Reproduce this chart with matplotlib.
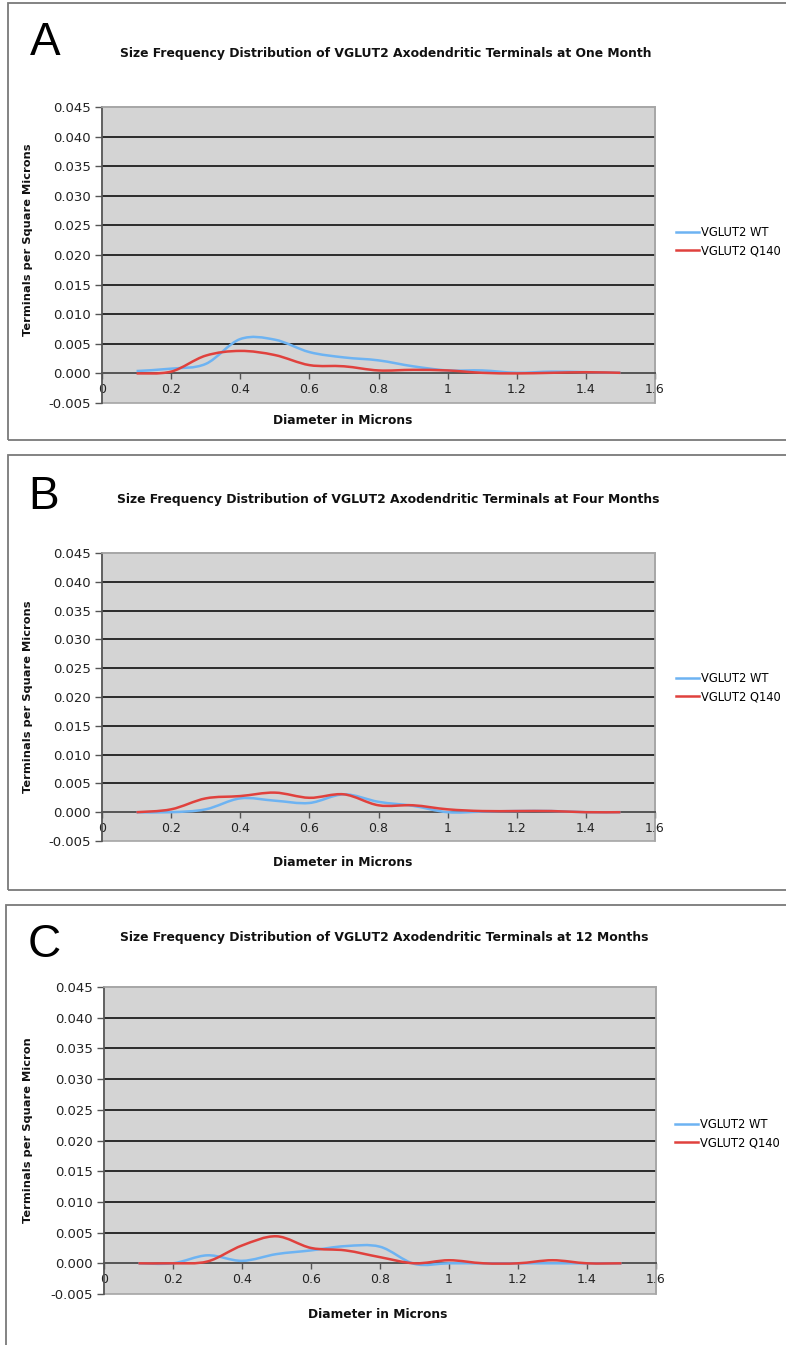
import numpy as np
import matplotlib
matplotlib.use("Agg")
from matplotlib import pyplot as plt
from matplotlib.path import Path
from matplotlib.patches import PathPatch, Rectangle
from matplotlib.lines import Line2D

# diameters (microns) and terminals per square micron
diameter = [0.1, 0.2, 0.3, 0.4, 0.5, 0.6, 0.7, 0.8, 0.9, 1.0, 1.1, 1.2, 1.3, 1.4, 1.5]

wt_1m = [0.0004, 0.0008, 0.0016, 0.0058, 0.0057, 0.0036, 0.0027, 0.0022, 0.0012, 0.0005, 0.0005, 0.0001, 0.0003, 0.0002, 0.0001]
q140_1m = [0.0, 0.0003, 0.0030, 0.0038, 0.0031, 0.0014, 0.0012, 0.0005, 0.0006, 0.0005, 0.0001, 0.0, 0.0001, 0.0002, 0.0001]

wt_4m = [0.0, 0.0, 0.0005, 0.0024, 0.0020, 0.0016, 0.0031, 0.0018, 0.0011, 0.0, 0.0001, 0.0002, 0.0002, 0.0, 0.0]
q140_4m = [0.0, 0.0005, 0.0024, 0.0028, 0.0034, 0.0025, 0.0031, 0.0012, 0.0012, 0.0005, 0.0002, 0.0002, 0.0002, 0.0, 0.0]

wt_12m = [0.0, 0.0, 0.0013, 0.0004, 0.0015, 0.0021, 0.0028, 0.0027, -0.0001, 0.0, 0.0, 0.0, 0.0, 0.0, 0.0]
q140_12m = [0.0, 0.0, 0.0003, 0.0029, 0.0044, 0.0025, 0.0021, 0.0010, 0.0, 0.0005, 0.0, 0.0, 0.0005, 0.0, 0.0]

yticks = [-0.005, 0.0, 0.005, 0.010, 0.015, 0.020, 0.025, 0.030, 0.035, 0.040, 0.045]
xticks = [0, 0.2, 0.4, 0.6, 0.8, 1, 1.2, 1.4, 1.6]
xticklabels = ["0", "0.2", "0.4", "0.6", "0.8", "1", "1.2", "1.4", "1.6"]

series_names = ["VGLUT2 WT", "VGLUT2 Q140"]
blue = "#6db3f2"
red = "#e0413d"

W, H = 786, 1345


def smooth_path(xs, ys):
    # excel style smoothed line: catmull-rom segments as cubic beziers
    p = np.column_stack([xs, ys]).astype(float)
    n = len(p)
    verts = [p[0]]
    codes = [Path.MOVETO]
    for i in range(n - 1):
        p0 = p[i - 1] if i > 0 else p[i]
        p3 = p[i + 2] if i + 2 < n else p[i + 1]
        c1 = p[i] + (p[i + 1] - p0) / 6.0
        c2 = p[i + 1] - (p3 - p[i]) / 6.0
        verts += [c1, c2, p[i + 1]]
        codes += [Path.CURVE4] * 3
    return Path(verts, codes)


def fig_box(x0, y0, x1, y1):
    # pixel box (top-left origin) -> figure fraction rect
    return [x0 / W, 1 - y1 / H, (x1 - x0) / W, (y1 - y0) / H]


panels = [
    dict(letter="A", box=(8, 3, 830, 440), ax=(102, 107, 655, 403), letter_xy=(30, 43),
         title="Size Frequency Distribution of VGLUT2 Axodendritic Terminals at One Month", title_xy=(386, 54),
         ylabel="Terminals per Square Microns", ylabel_xy=(28, 240), xlabel_xy=(343, 421),
         legend_xy=(676, 226), wt=wt_1m, q140=q140_1m),
    dict(letter="B", box=(8, 455, 830, 890), ax=(102, 553, 655, 841), letter_xy=(28, 497),
         title="Size Frequency Distribution of VGLUT2 Axodendritic Terminals at Four Months", title_xy=(388, 500),
         ylabel="Terminals per Square Microns", ylabel_xy=(28, 697), xlabel_xy=(343, 862),
         legend_xy=(676, 672), wt=wt_4m, q140=q140_4m),
    dict(letter="C", box=(6, 905, 830, 1400), ax=(104, 987, 656, 1294), letter_xy=(28, 945),
         title="Size Frequency Distribution of VGLUT2 Axodendritic Terminals at 12 Months", title_xy=(384, 938),
         ylabel="Terminals per Square Micron", ylabel_xy=(28, 1130), xlabel_xy=(378, 1315),
         legend_xy=(675, 1118), wt=wt_12m, q140=q140_12m),
]

fig = plt.figure(figsize=(W / 100, H / 100), dpi=100)
fig.patch.set_facecolor("white")

for pn in panels:
    bx = pn["box"]
    fig.patches.append(Rectangle((bx[0] / W, 1 - bx[3] / H), (bx[2] - bx[0]) / W, (bx[3] - bx[1]) / H,
                                 transform=fig.transFigure, fill=False, edgecolor="#7a7a7a", lw=1.3))

    ax = fig.add_axes(fig_box(*pn["ax"]))
    ax.set_facecolor("#d4d4d4")
    ax.set_xlim(0, 1.6)
    ax.set_ylim(-0.005, 0.045)

    for s in ["top", "right"]:
        ax.spines[s].set_color("#a6a6a6")
        ax.spines[s].set_linewidth(1.2)
    ax.spines["left"].set_color("#555555")
    ax.spines["left"].set_linewidth(1.2)
    ax.spines["bottom"].set_position(("data", 0))
    ax.spines["bottom"].set_color("#555555")
    ax.spines["bottom"].set_linewidth(1.4)
    # bottom edge of grey plot area
    ax.add_patch(Rectangle((0, 0), 1, 1, transform=ax.transAxes, fill=False,
                           edgecolor="#a6a6a6", lw=1.2, clip_on=False, zorder=0.5))

    for yv in yticks[2:-1]:
        ax.axhline(yv, color="#1e1e1e", lw=1.3, zorder=1)

    ax.set_yticks(yticks)
    ax.set_yticklabels([f"{v:.3f}" for v in yticks])
    ax.set_xticks(xticks)
    ax.set_xticklabels(xticklabels)
    ax.tick_params(axis="y", direction="out", length=5, width=1.0, color="#555555",
                   labelsize=9.5, labelcolor="#222222", pad=3)
    ax.tick_params(axis="x", direction="out", length=4, width=1.0, color="#555555",
                   labelsize=9, labelcolor="#222222", pad=3)

    ax.add_patch(PathPatch(smooth_path(diameter, pn["wt"]), fill=False, edgecolor=blue, lw=1.8, zorder=3))
    ax.add_patch(PathPatch(smooth_path(diameter, pn["q140"]), fill=False, edgecolor=red, lw=1.8, zorder=4))

    lx, ly = pn["letter_xy"]
    fig.text(lx / W, 1 - ly / H, pn["letter"], fontsize=33, family="Liberation Sans",
             ha="left", va="center", color="black")
    tx, ty = pn["title_xy"]
    fig.text(tx / W, 1 - ty / H, pn["title"], fontsize=8.9, fontweight="bold",
             ha="center", va="center", color="#111111")
    yx, yy = pn["ylabel_xy"]
    fig.text(yx / W, 1 - yy / H, pn["ylabel"], fontsize=8.2, fontweight="bold",
             rotation=90, ha="center", va="center", color="#111111")
    xx, xy = pn["xlabel_xy"]
    fig.text(xx / W, 1 - xy / H, "Diameter in Microns", fontsize=8.8, fontweight="bold",
             ha="center", va="center", color="#111111")

    handles = [Line2D([], [], color=blue, lw=1.8), Line2D([], [], color=red, lw=1.8)]
    gx, gy = pn["legend_xy"]
    fig.legend(handles, series_names, loc="upper left", bbox_to_anchor=(gx / W, 1 - gy / H),
               frameon=False, fontsize=8.3, handlelength=2.0, handletextpad=0.2,
               labelspacing=0.45, borderaxespad=0, borderpad=0)

fig.savefig("out.png", dpi=100)
